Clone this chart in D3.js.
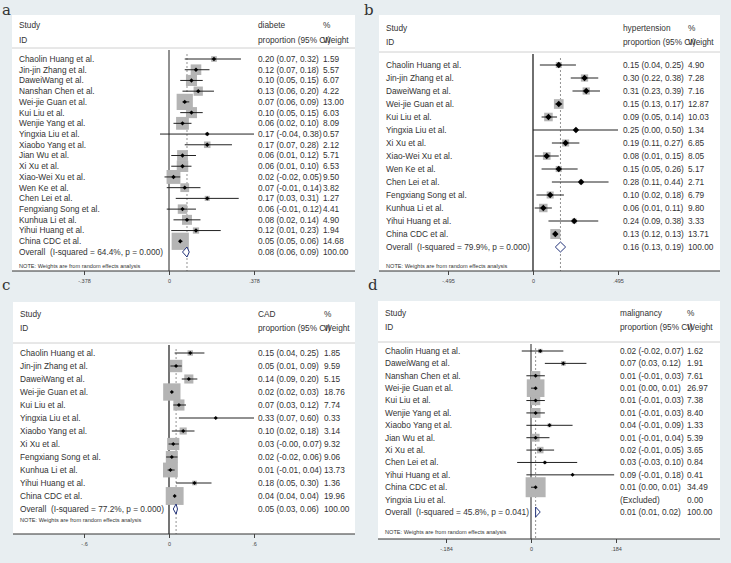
<!DOCTYPE html>
<html>
<head>
<meta charset="utf-8">
<script src="https://cdn.jsdelivr.net/npm/d3@7/dist/d3.min.js"></script>
<style>
body{margin:0;background:#e8eef1;}
svg{display:block;font-family:"Liberation Sans",Arial,sans-serif;}
</style>
</head>
<body>
<svg id="chart" width="731" height="563"></svg>
<script>
// a: diabete
var studies_a = ["Chaolin Huang et al.","Jin-jin Zhang et al.","DaweiWang et al.","Nanshan Chen et al.","Wei-jie Guan et al.","Kui Liu et al.","Wenjie Yang et al.","Yingxia Liu et al.","Xiaobo Yang et al.","Jian Wu et al.","Xi Xu et al.","Xiao-Wei Xu et al.","Wen Ke et al.","Chen Lei et al.","Fengxiang Song et al.","Kunhua Li et al.","Yihui Huang et al.","China CDC et al."];
var est_a = [0.20,0.12,0.10,0.13,0.07,0.10,0.06,0.17,0.17,0.06,0.06,0.02,0.07,0.17,0.06,0.08,0.12,0.05];
var lo_a  = [0.07,0.07,0.05,0.06,0.06,0.05,0.02,-0.04,0.07,0.01,0.01,-0.02,-0.01,0.03,-0.01,0.02,0.01,0.05];
var hi_a  = [0.32,0.18,0.15,0.20,0.09,0.15,0.10,0.38,0.28,0.12,0.10,0.05,0.14,0.31,0.12,0.14,0.23,0.06];
var weight_a = [1.59,5.57,6.07,4.22,13.00,6.03,8.09,0.57,2.12,5.71,6.53,9.50,3.82,1.27,4.41,4.90,1.94,14.68];
var overall_a = [0.08,0.06,0.09];

// b: hypertension
var studies_b = ["Chaolin Huang et al.","Jin-jin Zhang et al.","DaweiWang et al.","Wei-jie Guan et al.","Kui Liu et al.","Yingxia Liu et al.","Xi Xu et al.","Xiao-Wei Xu et al.","Wen Ke et al.","Chen Lei et al.","Fengxiang Song et al.","Kunhua Li et al.","Yihui Huang et al.","China CDC et al."];
var est_b = [0.15,0.30,0.31,0.15,0.09,0.25,0.19,0.08,0.15,0.28,0.10,0.06,0.24,0.13];
var lo_b  = [0.04,0.22,0.23,0.13,0.05,0.00,0.11,0.01,0.05,0.11,0.02,0.01,0.09,0.12];
var hi_b  = [0.25,0.38,0.39,0.17,0.14,0.50,0.27,0.15,0.26,0.44,0.18,0.11,0.38,0.13];
var weight_b = [4.90,7.28,7.16,12.87,10.03,1.34,6.85,8.05,5.17,2.71,6.79,9.80,3.33,13.71];
var overall_b = [0.16,0.13,0.19];

// c: CAD
var studies_c = ["Chaolin Huang et al.","Jin-jin Zhang et al.","DaweiWang et al.","Wei-jie Guan et al.","Kui Liu et al.","Yingxia Liu et al.","Xiaobo Yang et al.","Xi Xu et al.","Fengxiang Song et al.","Kunhua Li et al.","Yihui Huang et al.","China CDC et al."];
var est_c = [0.15,0.05,0.14,0.02,0.07,0.33,0.10,0.03,0.02,0.01,0.18,0.04];
var lo_c  = [0.04,0.01,0.09,0.02,0.03,0.07,0.02,-0.003,-0.02,-0.01,0.05,0.04];
var hi_c  = [0.25,0.09,0.20,0.03,0.12,0.60,0.18,0.07,0.06,0.04,0.30,0.04];
var weight_c = [1.85,9.59,5.15,18.76,7.74,0.33,3.14,9.32,9.06,13.73,1.36,19.96];
var overall_c = [0.05,0.03,0.06];

// d: malignancy (Yingxia Liu excluded)
var studies_d = ["Chaolin Huang et al.","DaweiWang et al.","Nanshan Chen et al.","Wei-jie Guan et al.","Kui Liu et al.","Wenjie Yang et al.","Xiaobo Yang et al.","Jian Wu et al.","Xi Xu et al.","Chen Lei et al.","Yihui Huang et al.","China CDC et al.","Yingxia Liu et al."];
var est_d = [0.02,0.07,0.01,0.01,0.01,0.01,0.04,0.01,0.02,0.03,0.09,0.01,null];
var lo_d  = [-0.02,0.03,-0.01,0.00,-0.01,-0.01,-0.01,-0.01,-0.01,-0.03,-0.01,0.00,null];
var hi_d  = [0.07,0.12,0.03,0.01,0.03,0.03,0.09,0.04,0.05,0.10,0.18,0.01,null];
var weight_d = [1.62,1.91,7.61,26.97,7.38,8.40,1.33,5.39,3.65,0.84,0.41,34.49,0.00];
var overall_d = [0.01,0.01,0.02];

var outcomes = ["diabete","hypertension","CAD","malignancy"];
var i_squared = ["64.4%","79.9%","77.2%","45.8%"];
var p_values = ["0.000","0.000","0.000","0.041"];
var axis_max = [0.378,0.495,0.6,0.184];

var Text_color = "#333";

var panels = [
    {letter:"a", lx:2, ly:15, studies:studies_a, est:est_a, lo:lo_a, hi:hi_a, w:weight_a, overall:overall_a,
     x0:12, x1:355, y0:15, y1:271, hy:[25,40], sep:48, top:59, bottom:252, note:266, zero:169, est_x:258, w_x:323, k:4.5, mk:2.2, zw:1},
    {letter:"b", lx:364, ly:15, studies:studies_b, est:est_b, lo:lo_b, hi:hi_b, w:weight_b, overall:overall_b,
     x0:379, x1:720, y0:15, y1:271, hy:[28,42], sep:52, top:65, bottom:247, note:266, zero:533, est_x:623, w_x:688, k:2.7, mk:3.2, zw:1.3},
    {letter:"c", lx:2, ly:290, studies:studies_c, est:est_c, lo:lo_c, hi:hi_c, w:weight_c, overall:overall_c,
     x0:13, x1:355, y0:302, y1:534, hy:[314,328], sep:343, top:353, bottom:509, note:520, zero:169, est_x:258, w_x:324, k:4.0, mk:2.0, zw:1.8},
    {letter:"d", lx:368, ly:290, studies:studies_d, est:est_d, lo:lo_d, hi:hi_d, w:weight_d, overall:overall_d,
     x0:378, x1:720, y0:301, y1:539, hy:[313,327], sep:342, top:351, bottom:512, note:532, zero:531, est_x:620, w_x:687, k:3.4, mk:2.0, zw:1}
];

function fmt2(v){
    return v.toFixed(2);
}

function tick_fmt(v){
    if(v == 0){
        return "0";
    }
    return (v < 0 ? "-" : "") + String(Math.abs(v)).replace(/^0/, "");
}

function diamond(cx, cy, rx, ry){
    return "M" + cx + "," + (cy - ry) + "L" + (cx + rx) + "," + cy + "L" + cx + "," + (cy + ry) + "L" + (cx - rx) + "," + cy + "Z";
}

var svg = d3.select("#chart");

svg.append("rect")
    .attr("width", 731)
    .attr("height", 563)
    .attr("fill", "#e8eef1");

function draw_panel(p, idx){
    var g = svg.append("g");
    var t = axis_max[idx];

    g.append("rect")
        .attr("x", p.x0).attr("y", p.y0)
        .attr("width", p.x1 - p.x0).attr("height", p.y1 - p.y0)
        .attr("fill", "#ffffff");

    g.append("text")
        .attr("x", p.lx).attr("y", p.ly)
        .text(p.letter)
        .style("font-family", "'DejaVu Serif','Liberation Serif',serif")
        .style("font-size", "15px")
        .style("fill", "#333");

    var hdr = [
        [p.x0 + 7, p.hy[0], "Study"], [p.est_x, p.hy[0], outcomes[idx]], [p.w_x, p.hy[0], "%"],
        [p.x0 + 7, p.hy[1], "ID"], [p.est_x, p.hy[1], "proportion (95% CI)"], [p.w_x, p.hy[1], "Weight"]
    ];
    g.selectAll(".hdr").data(hdr).enter().append("text")
        .attr("x", function(d){ return d[0]; })
        .attr("y", function(d){ return d[1]; })
        .attr("dy", "0.35em")
        .text(function(d){ return d[2]; })
        .style("font-size", "8.3px")
        .style("fill", Text_color);

    g.append("line")
        .attr("x1", p.x0).attr("x2", p.x1)
        .attr("y1", p.sep).attr("y2", p.sep)
        .attr("stroke", "#d0d0d0").attr("stroke-width", 1);

    var x = d3.scaleLinear().domain([-t, t]).range([p.zero - 85, p.zero + 85]).clamp(true);
    var n = p.studies.length;
    var y = d3.scaleLinear().domain([0, n]).range([p.top, p.bottom]);

    // line of no effect and pooled estimate
    g.append("line")
        .attr("x1", x(0)).attr("x2", x(0))
        .attr("y1", p.sep + 2).attr("y2", p.y1)
        .attr("stroke", p.zw > 1.5 ? "#666" : "#222").attr("stroke-width", p.zw);
    g.append("line")
        .attr("x1", x(p.overall[0])).attr("x2", x(p.overall[0]))
        .attr("y1", p.sep + 6).attr("y2", p.y1)
        .attr("stroke", "#777").attr("stroke-width", 0.8)
        .attr("stroke-dasharray", "2,2");

    var rows = p.studies.map(function(s, i){
        return {name:s, est:p.est[i], lo:p.lo[i], hi:p.hi[i], w:p.w[i], i:i};
    });

    rows.forEach(function(r){
        var yy = y(r.i);
        if(r.est !== null){
            var side = p.k * Math.sqrt(r.w);
            g.append("rect")
                .attr("x", x(r.est) - side / 2).attr("y", yy - side / 2)
                .attr("width", side).attr("height", side)
                .attr("fill", "#b4b4b4");
            g.append("line")
                .attr("x1", x(r.lo)).attr("x2", x(r.hi))
                .attr("y1", yy).attr("y2", yy)
                .attr("stroke", "#222").attr("stroke-width", 1);
            g.append("path")
                .attr("d", diamond(x(r.est), yy, p.mk, p.mk))
                .attr("fill", "#000");
        }
        g.append("text")
            .attr("x", p.x0 + 7).attr("y", yy).attr("dy", "0.35em")
            .text(r.name)
            .style("font-size", "8.3px").style("fill", Text_color);
        g.append("text")
            .attr("x", p.est_x).attr("y", yy).attr("dy", "0.35em")
            .text(r.est === null ? "(Excluded)" : fmt2(r.est) + " (" + fmt2(r.lo) + ", " + fmt2(r.hi) + ")")
            .style("font-size", "8.3px").style("fill", Text_color);
        g.append("text")
            .attr("x", p.w_x).attr("y", yy).attr("dy", "0.35em")
            .text(fmt2(r.w))
            .style("font-size", "8.3px").style("fill", Text_color);
    });

    // overall row
    var oy = y(n);
    g.append("path")
        .attr("d", "M" + x(p.overall[1]) + "," + oy + "L" + x(p.overall[0]) + "," + (oy - 5) +
                   "L" + x(p.overall[2]) + "," + oy + "L" + x(p.overall[0]) + "," + (oy + 5) + "Z")
        .attr("fill", "#fff").attr("stroke", "#23337a").attr("stroke-width", 1);
    g.append("text")
        .attr("x", p.x0 + 7).attr("y", oy).attr("dy", "0.35em")
        .attr("xml:space", "preserve")
        .style("white-space", "pre")
        .text("Overall  (I-squared = " + i_squared[idx] + ", p = " + p_values[idx] + ")")
        .style("font-size", "8.3px").style("fill", Text_color);
    g.append("text")
        .attr("x", p.est_x).attr("y", oy).attr("dy", "0.35em")
        .text(fmt2(p.overall[0]) + " (" + fmt2(p.overall[1]) + ", " + fmt2(p.overall[2]) + ")")
        .style("font-size", "8.3px").style("fill", Text_color);
    g.append("text")
        .attr("x", p.w_x).attr("y", oy).attr("dy", "0.35em")
        .text("100.00")
        .style("font-size", "8.3px").style("fill", Text_color);

    g.append("text")
        .attr("x", p.x0 + 7).attr("y", p.note).attr("dy", "0.35em")
        .text("NOTE: Weights are from random effects analysis")
        .style("font-size", "5.6px").style("fill", Text_color);

    // x axis
    g.append("line")
        .attr("x1", p.x0).attr("x2", p.x1)
        .attr("y1", p.y1).attr("y2", p.y1)
        .attr("stroke", "#333").attr("stroke-width", 1);
    var ax = g.append("g")
        .attr("transform", "translate(0," + p.y1 + ")")
        .call(d3.axisBottom(x).tickValues([-t, 0, t]).tickSize(4).tickPadding(4).tickFormat(tick_fmt));
    ax.select(".domain").remove();
    ax.selectAll("line").attr("stroke", "#444");
    ax.selectAll("text")
        .style("font-family", "'Liberation Sans',Arial,sans-serif")
        .style("font-size", "5.5px")
        .attr("fill", "#444");
}

panels.forEach(function(p, i){
    draw_panel(p, i);
});
</script>
</body>
</html>
